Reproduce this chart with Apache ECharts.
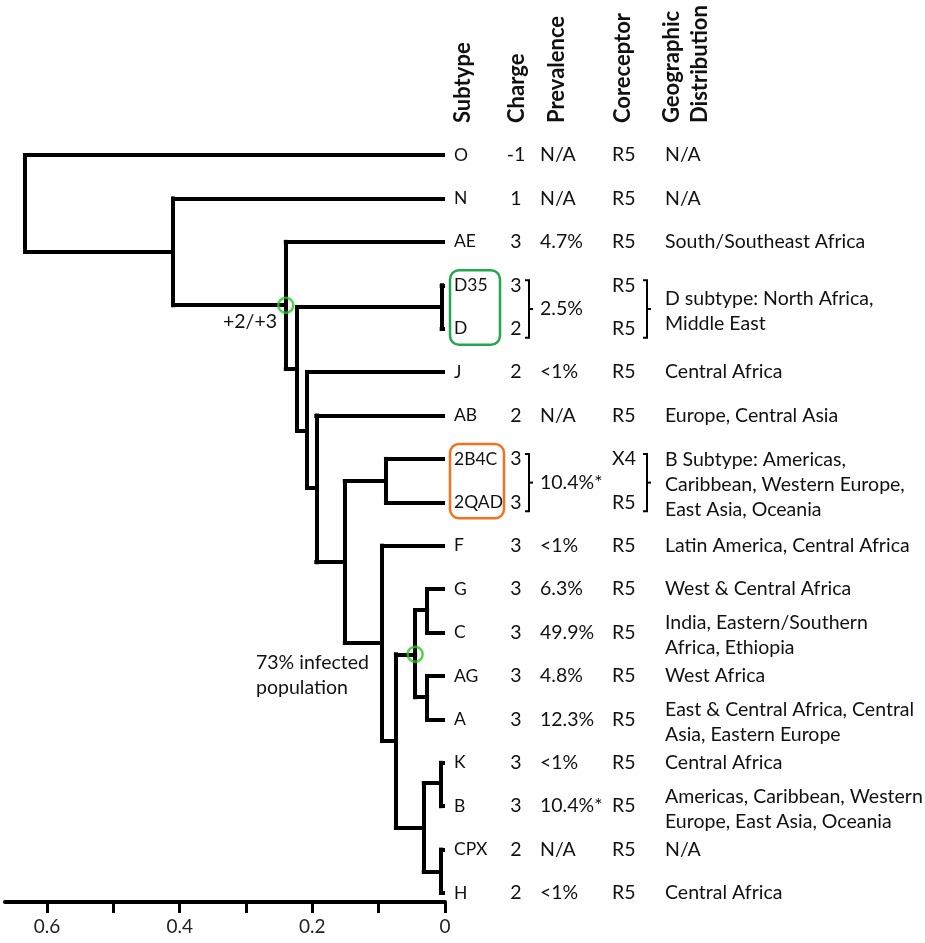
<!DOCTYPE html>
<html>
<head>
<meta charset="utf-8">
<script src="https://cdn.jsdelivr.net/npm/echarts@6/dist/echarts.min.js"></script>
<style>
html, body { margin: 0; padding: 0; background: #fff; }
#chart { width: 925px; height: 943px; }
</style>
</head>
<body>
<div id="chart"></div>
<script>
// leaves, top to bottom (row index = position in array)
var leafNames = ['O', 'N', 'AE', 'D35', 'D', 'J', 'AB', '2B4C', '2QAD', 'F', 'G', 'C', 'AG', 'A', 'K', 'B', 'CPX', 'H'];
var leafParent = ['root', 'n1', 'n2', 'dGrp', 'dGrp', 'n4', 'n5', 'bGrp', 'bGrp', 'n7', 'gcGrp', 'gcGrp', 'agGrp', 'agGrp', 'kbGrp', 'kbGrp', 'chGrp', 'chGrp'];
var leafTip = 0.003;

// internal nodes: distance, vertical span (rows), parent, row where it hangs from parent
var nodeNames   = ['root', 'n1', 'n2', 'n3', 'dGrp', 'n4', 'n5', 'n6', 'bGrp', 'n7', 'n8', 'n9', 'gcGrp', 'agGrp', 'n10', 'kbGrp', 'chGrp'];
var nodeHeights = [0.633, 0.410, 0.240, 0.223, 0.005, 0.208, 0.194, 0.151, 0.089, 0.095, 0.074, 0.045, 0.027, 0.027, 0.032, 0.006, 0.006];
var nodeTop     = [0, 1, 2, 3.5, 3, 5, 6, 7.51, 7, 9, 11.5, 10.48, 10, 12, 14.47, 14, 16];
var nodeBottom  = [2.23, 3.46, 4.93, 6.34, 4, 7.67, 9.38, 11.24, 8, 13.5, 15.5, 12.49, 11, 13, 16.5, 15, 17];
var nodeParent  = [null, 'root', 'n1', 'n2', 'n3', 'n3', 'n4', 'n5', 'n6', 'n6', 'n7', 'n8', 'n9', 'n9', 'n8', 'n10', 'n10'];
var nodeAttach  = [null, 2.23, 3.46, 4.93, 3.5, 6.34, 7.67, 9.38, 7.51, 11.24, 13.5, 11.5, 10.48, 12.49, 15.5, 14.47, 16.5];
var markedNodes = ['n2', 'n9'];

// table columns
var charges = ['-1', '1', '3', '3', '2', '2', '2', '3', '3', '3', '3', '3', '3', '3', '3', '3', '2', '2'];
var prevalence = ['N/A', 'N/A', '4.7%', '', '', '<1%', 'N/A', '', '', '<1%', '6.3%', '49.9%', '4.8%', '12.3%', '<1%', '10.4%*', 'N/A', '<1%'];
var coreceptors = ['R5', 'R5', 'R5', 'R5', 'R5', 'R5', 'R5', 'X4', 'R5', 'R5', 'R5', 'R5', 'R5', 'R5', 'R5', 'R5', 'R5', 'R5'];
var geography = [
    'N/A', 'N/A', 'South/Southeast Africa', '', '', 'Central Africa', 'Europe, Central Asia', '', '',
    'Latin America, Central Africa', 'West & Central Africa', 'India, Eastern/Southern\nAfrica, Ethiopia',
    'West Africa', 'East & Central Africa, Central\nAsia, Eastern Europe', 'Central Africa',
    'Americas, Caribbean, Western\nEurope, East Asia, Oceania', 'N/A', 'Central Africa'
];
var groupRows = [[3, 4], [7, 8]];
var groupPrevalence = ['2.5%', '10.4%*'];
var groupGeography = ['D subtype: North Africa,\nMiddle East', 'B Subtype: Americas,\nCaribbean, Western Europe,\nEast Asia, Oceania'];
var groupColors = ['#22a84f', '#f4721f'];

var headers = ['Subtype', 'Charge', 'Prevalence', 'Coreceptor', 'Geographic', 'Distribution'];
var tickValues = [0, 0.1, 0.2, 0.3, 0.4, 0.5, 0.6];
var labelValues = [0, 0.2, 0.4, 0.6];

var FONT = 'Lato, "Open Sans", sans-serif';
var BODY = '19.5px ' + FONT;
var NAMES = '17.5px ' + FONT;

// tree segments
var nodeX = {}, nodeY = {};
nodeNames.forEach(function(n, i) { nodeX[n] = nodeHeights[i]; nodeY[n] = nodeAttach[i]; });
var segs = [];
nodeNames.forEach(function(n, i) {
    segs.push({ coords: [[nodeHeights[i], nodeTop[i]], [nodeHeights[i], nodeBottom[i]]] });
    if (nodeParent[i]) {
        segs.push({ coords: [[nodeX[nodeParent[i]], nodeAttach[i]], [nodeHeights[i], nodeAttach[i]]] });
    }
});
leafNames.forEach(function(n, i) {
    segs.push({ coords: [[nodeX[leafParent[i]], i], [leafTip, i]] });
});

var chart = echarts.init(document.getElementById('chart'));
chart.setOption({
    animation: false,
    grid: { left: 5, right: 480, top: 24.8, bottom: 41 },
    xAxis: {
        type: 'value', inverse: true, min: 0, max: 0.6633,
        splitLine: { show: false },
        axisLine: { onZero: false, lineStyle: { color: '#000', width: 4 } },
        axisTick: { customValues: tickValues, length: 11, lineStyle: { color: '#000', width: 3 } },
        axisLabel: {
            customValues: labelValues, margin: 15, fontSize: 19, color: '#222', fontFamily: FONT,
            formatter: function(v) { return v === 0 ? '0' : v.toFixed(1); }
        }
    },
    yAxis: { type: 'value', inverse: true, min: -3, max: 17.207, show: false },
    series: [{
        type: 'lines',
        coordinateSystem: 'cartesian2d',
        clip: false,
        silent: true,
        lineStyle: { color: '#000', width: 4, opacity: 1, cap: 'square', curveness: 0 },
        data: segs
    }, {
        type: 'scatter',
        clip: false,
        symbol: 'circle',
        symbolSize: 15,
        itemStyle: { color: 'rgba(0,0,0,0)', borderColor: '#1fcc1f', borderWidth: 2.5 },
        data: markedNodes.map(function(n) { return [nodeX[n], nodeY[n]]; })
    }]
});

// table text and decorations
function py(r) { return chart.convertToPixel({ yAxisIndex: 0 }, r); }
var g = [];
function txt(s, x, y, align, font) {
    g.push({ type: 'text', silent: true,
        style: { text: s, x: x, y: y, align: align || 'left', verticalAlign: 'middle', font: font || BODY, fill: '#111', lineHeight: 25 } });
}
var colX = { name: 454, charge: 516, prev: 540, core: 612, geo: 665 };
leafNames.forEach(function(n, i) {
    var y = py(i);
    txt(n, colX.name, y, 'left', NAMES);
    txt(charges[i], colX.charge, y, 'center');
    if (prevalence[i]) txt(prevalence[i], colX.prev, y);
    txt(coreceptors[i], colX.core, y);
    if (geography[i]) txt(geography[i], colX.geo, y + (geography[i].indexOf('\n') > 0 ? 3 : 0));
});
groupRows.forEach(function(rows, k) {
    var y0 = py(rows[0]), y1 = py(rows[1]), mid = (y0 + y1) / 2;
    txt(groupPrevalence[k], colX.prev, mid + 2);
    txt(groupGeography[k], colX.geo, mid + 4);
    var top = y0 - 5, bot = y1 + 9, m = (top + bot) / 2;
    [529, 647].forEach(function(bx) {
        g.push({ type: 'polyline', silent: true, shape: { points: [[bx - 4, top], [bx, top], [bx, bot], [bx - 4, bot]] },
            style: { stroke: '#000', lineWidth: 2, fill: null } });
        g.push({ type: 'line', silent: true, shape: { x1: bx, y1: m, x2: bx + 4, y2: m },
            style: { stroke: '#000', lineWidth: 2 } });
    });
    g.push({ type: 'rect', silent: true,
        shape: { x: 450, y: y0 - 15, width: k ? 54 : 50, height: y1 - y0 + 31, r: 9 },
        style: { stroke: groupColors[k], lineWidth: 2.5, fill: null } });
});
var hx = [463, 517, 557, 623, 672, 700];
headers.forEach(function(h, i) {
    g.push({ type: 'text', silent: true, x: hx[i], y: 123, rotation: Math.PI / 2,
        style: { text: h, align: 'left', verticalAlign: 'middle', font: 'bold 22px ' + FONT, fill: '#111' } });
});
txt('+2/+3', 223, 322);
txt('73% infected\npopulation', 256, 675);

chart.setOption({ graphic: { elements: g } });
</script>
</body>
</html>
